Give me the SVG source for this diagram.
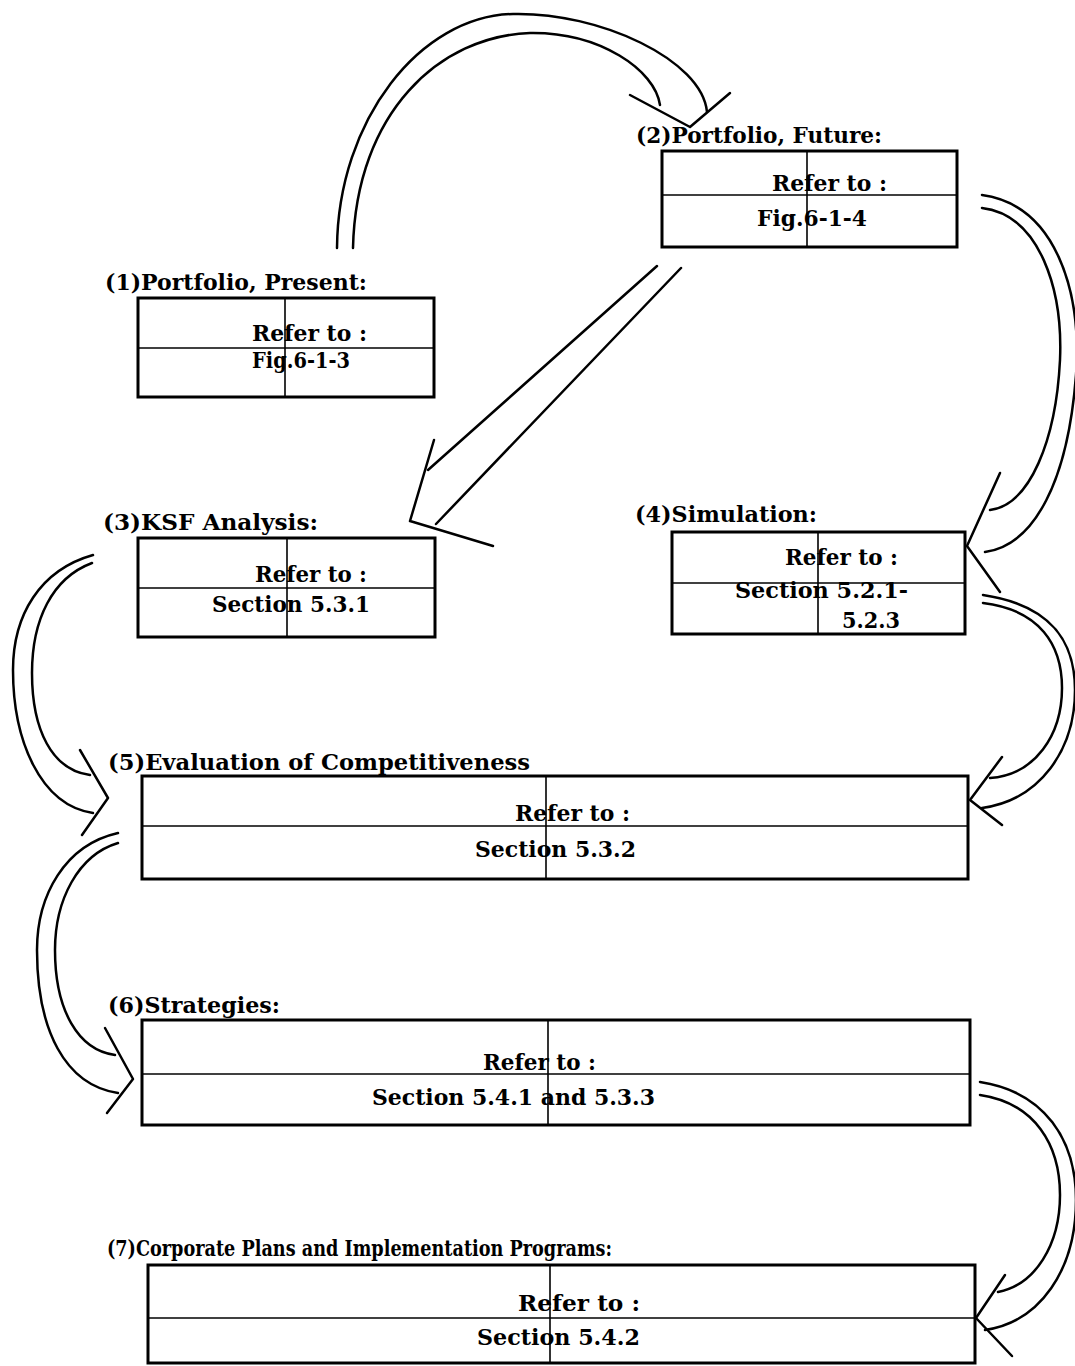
<svg xmlns="http://www.w3.org/2000/svg" width="1075" height="1366" viewBox="0 0 1075 1366">
<style>
.box{fill:none;stroke:#000;stroke-width:3}
.div{stroke:#000;stroke-width:1.6}
.lbl{font-family:"DejaVu Serif","Liberation Serif",serif;font-weight:bold;font-size:22px;fill:#000}
.t{font-family:"DejaVu Serif","Liberation Serif",serif;font-weight:bold;font-size:23px;fill:#000}
.c{fill:none;stroke:#000;stroke-width:2.5;stroke-linecap:round;stroke-linejoin:round}
</style>
<rect width="1075" height="1366" fill="#fff"/>
<g id="connectors">
<g id="c12">
<path class="c" d="M337,248 C338,120 420,16 513,14 C600,12 702,60 707,112"/>
<path class="c" d="M353,248 C356,112 440,36 530,33 C600,32 655,70 660,105"/>
<path class="c" d="M630,95 L690,127 L730,93"/>
</g>
<g id="c23">
<path class="c" d="M657,266 L428,470"/>
<path class="c" d="M681,268 L436,524"/>
<path class="c" d="M434,440 L410,521 L493,546"/>
</g>
<g id="c24">
<path class="c" d="M982,195 C1055,205 1082,290 1076,375 C1068,480 1035,545 985,552"/>
<path class="c" d="M982,208 C1040,215 1063,290 1060,360 C1056,440 1030,505 990,510"/>
<path class="c" d="M1000,473 L967,546 L1000,592"/>
</g>
<g id="c45">
<path class="c" d="M983,595 C1050,605 1075,640 1075,690 C1075,750 1040,800 982,808"/>
<path class="c" d="M983,603 C1040,610 1062,645 1062,688 C1062,735 1035,775 990,778"/>
<path class="c" d="M1002,757 L970,800 L1002,825"/>
</g>
<g id="c35">
<path class="c" d="M93,555 C40,570 13,615 13,670 C13,740 40,805 93,813"/>
<path class="c" d="M92,563 C52,578 32,620 32,673 C32,730 52,770 90,775"/>
<path class="c" d="M80,750 L108,798 L82,835"/>
</g>
<g id="c56">
<path class="c" d="M118,833 C65,845 37,895 37,950 C37,1030 65,1085 118,1093"/>
<path class="c" d="M118,843 C78,855 55,900 55,950 C55,1010 78,1050 115,1055"/>
<path class="c" d="M105,1028 L133,1079 L107,1113"/>
</g>
<g id="c67">
<path class="c" d="M980,1082 C1045,1092 1076,1140 1076,1200 C1076,1270 1040,1322 985,1330"/>
<path class="c" d="M980,1095 C1035,1103 1060,1145 1060,1195 C1060,1245 1035,1285 998,1292"/>
<path class="c" d="M1005,1275 L976,1318 L1012,1356"/>
</g>
</g>
<g id="n1">
<text class="lbl" x="105" y="290" textLength="262" lengthAdjust="spacingAndGlyphs">(1)Portfolio, Present:</text>
<rect class="box" x="138" y="298" width="296" height="99"/>
<line class="div" x1="138" y1="348" x2="434" y2="348"/>
<line class="div" x1="285" y1="298" x2="285" y2="397"/>
<text class="t" x="252" y="341" textLength="115" lengthAdjust="spacingAndGlyphs">Refer to :</text>
<text class="t" x="252" y="368" textLength="98" lengthAdjust="spacingAndGlyphs">Fig.6-1-3</text>
</g>
<g id="n2">
<text class="lbl" x="636" y="143" textLength="246" lengthAdjust="spacingAndGlyphs">(2)Portfolio, Future:</text>
<rect class="box" x="662" y="151" width="295" height="96"/>
<line class="div" x1="662" y1="195" x2="957" y2="195"/>
<line class="div" x1="807" y1="151" x2="807" y2="247"/>
<text class="t" x="772" y="191" textLength="115" lengthAdjust="spacingAndGlyphs">Refer to :</text>
<text class="t" x="757" y="226" textLength="110" lengthAdjust="spacingAndGlyphs">Fig.6-1-4</text>
</g>
<g id="n3">
<text class="lbl" x="103" y="530" textLength="215" lengthAdjust="spacingAndGlyphs">(3)KSF Analysis:</text>
<rect class="box" x="138" y="538" width="297" height="99"/>
<line class="div" x1="138" y1="588" x2="435" y2="588"/>
<line class="div" x1="287" y1="538" x2="287" y2="637"/>
<text class="t" x="255" y="582" textLength="112" lengthAdjust="spacingAndGlyphs">Refer to :</text>
<text class="t" x="212" y="612" textLength="158" lengthAdjust="spacingAndGlyphs">Section 5.3.1</text>
</g>
<g id="n4">
<text class="lbl" x="635" y="522" textLength="182" lengthAdjust="spacingAndGlyphs">(4)Simulation:</text>
<rect class="box" x="672" y="532" width="293" height="102"/>
<line class="div" x1="672" y1="583" x2="965" y2="583"/>
<line class="div" x1="818" y1="532" x2="818" y2="634"/>
<text class="t" x="785" y="565" textLength="113" lengthAdjust="spacingAndGlyphs">Refer to :</text>
<text class="t" x="735" y="598" textLength="173" lengthAdjust="spacingAndGlyphs">Section 5.2.1-</text>
<text class="t" x="842" y="628" textLength="58" lengthAdjust="spacingAndGlyphs">5.2.3</text>
</g>
<g id="n5">
<text class="lbl" x="108" y="770" textLength="422" lengthAdjust="spacingAndGlyphs">(5)Evaluation of Competitiveness</text>
<rect class="box" x="142" y="776" width="826" height="103"/>
<line class="div" x1="142" y1="826" x2="968" y2="826"/>
<line class="div" x1="546" y1="776" x2="546" y2="879"/>
<text class="t" x="515" y="821" textLength="115" lengthAdjust="spacingAndGlyphs">Refer to :</text>
<text class="t" x="475" y="857" textLength="161" lengthAdjust="spacingAndGlyphs">Section 5.3.2</text>
</g>
<g id="n6">
<text class="lbl" x="108" y="1013" textLength="172" lengthAdjust="spacingAndGlyphs">(6)Strategies:</text>
<rect class="box" x="142" y="1020" width="828" height="105"/>
<line class="div" x1="142" y1="1074" x2="970" y2="1074"/>
<line class="div" x1="548" y1="1020" x2="548" y2="1125"/>
<text class="t" x="483" y="1070" textLength="113" lengthAdjust="spacingAndGlyphs">Refer to :</text>
<text class="t" x="372" y="1105" textLength="283" lengthAdjust="spacingAndGlyphs">Section 5.4.1 and 5.3.3</text>
</g>
<g id="n7">
<text class="lbl" x="107" y="1256" textLength="505" lengthAdjust="spacingAndGlyphs">(7)Corporate Plans and Implementation Programs:</text>
<rect class="box" x="148" y="1265" width="827" height="98"/>
<line class="div" x1="148" y1="1318" x2="975" y2="1318"/>
<line class="div" x1="550" y1="1265" x2="550" y2="1363"/>
<text class="t" x="518" y="1311" textLength="122" lengthAdjust="spacingAndGlyphs">Refer to :</text>
<text class="t" x="477" y="1345" textLength="163" lengthAdjust="spacingAndGlyphs">Section 5.4.2</text>
</g>
</svg>
